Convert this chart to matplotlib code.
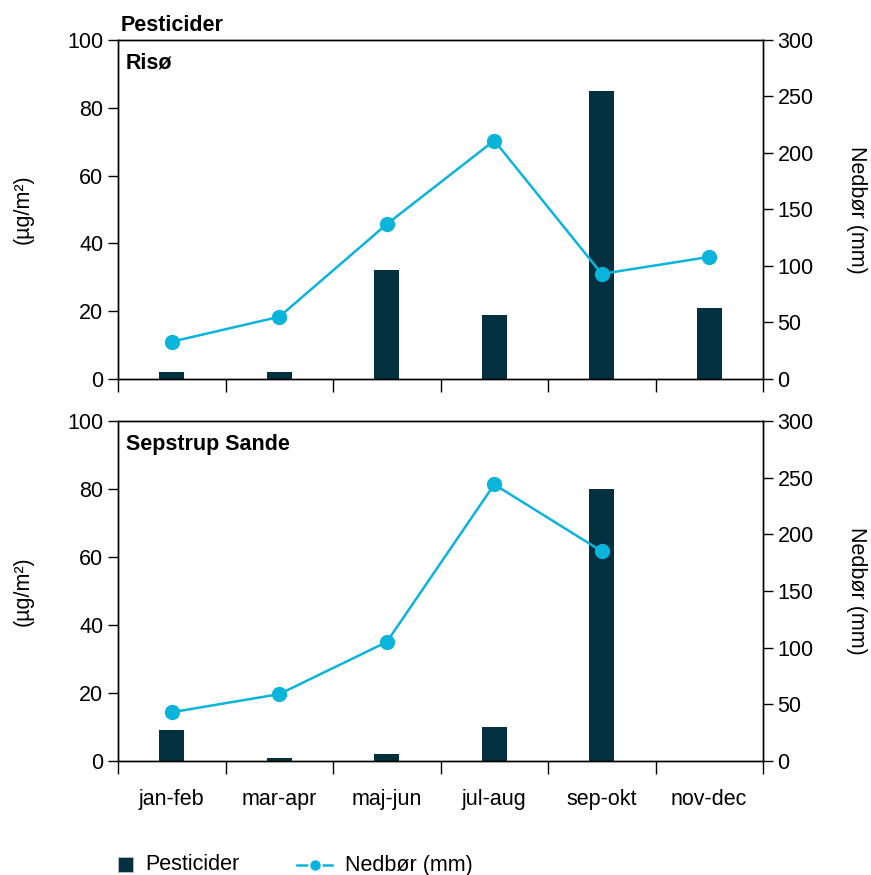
import matplotlib
matplotlib.use("Agg")
import matplotlib.pyplot as plt
from matplotlib.lines import Line2D
from matplotlib.patches import Rectangle
import numpy as np

plt.rcParams["font.family"] = ["Liberation Sans", "DejaVu Sans"]

perioder = ["jan-feb", "mar-apr", "maj-jun", "jul-aug", "sep-okt", "nov-dec"]

# Risø
riso_pest = [2, 2, 32, 19, 85, 21]
riso_nedbor = [33, 55, 137, 211, 93, 108]

# Sepstrup Sande
sepstrup_pest = [9, 1, 2, 10, 80, 0]
sepstrup_nedbor = [43, 59, 105, 244, 185, np.nan]

BAR_COLOR = "#04313f"
LINE_COLOR = "#0ab4da"
FS = 15.5

W, H = 871, 875
fig = plt.figure(figsize=(W / 100, H / 100), dpi=100)
ax_top = fig.add_axes([0.1355, 0.5669, 0.7405, 0.3874])
ax_bot = fig.add_axes([0.1355, 0.1303, 0.7405, 0.3886])

x = np.arange(len(perioder))


def draw_panel(ax, pest, nedbor, navn, show_labels):
    ax.bar(x, pest, width=0.23, color=BAR_COLOR, zorder=2)
    ax.set_xlim(-0.5, len(perioder) - 0.5)
    ax.set_ylim(0, 100)
    ax.set_yticks([0, 20, 40, 60, 80, 100])
    ax.set_xticks(np.arange(len(perioder) + 1) - 0.5)
    ax.set_xticklabels([])
    ax.set_xticks(x, minor=True)
    if show_labels:
        ax.set_xticklabels(perioder, minor=True)
    ax.tick_params(axis="x", which="major", direction="out", length=9, width=1)
    ax.tick_params(axis="x", which="minor", length=0, pad=20, labelsize=FS)
    ax.tick_params(axis="y", direction="out", length=7, width=1, labelsize=FS)
    for s in ax.spines.values():
        s.set_linewidth(1)
    ax.set_ylabel("(µg/m²)", fontsize=FS, labelpad=24)
    ax.text(0.012, 0.963, navn, transform=ax.transAxes, fontsize=FS,
            fontweight="bold", va="top", ha="left")

    ax2 = ax.twinx()
    ax2.plot(x, nedbor, color=LINE_COLOR, linewidth=1.8, marker="o",
             markersize=10, zorder=3)
    ax2.set_ylim(0, 300)
    ax2.set_yticks([0, 50, 100, 150, 200, 250, 300])
    ax2.tick_params(axis="y", direction="out", length=7, width=1, labelsize=FS)
    ax2.set_ylabel("Nedbør (mm)", fontsize=FS, rotation=-90, labelpad=38)
    for s in ax2.spines.values():
        s.set_linewidth(1)
    return ax2


draw_panel(ax_top, riso_pest, riso_nedbor, "Risø", False)
draw_panel(ax_bot, sepstrup_pest, sepstrup_nedbor, "Sepstrup Sande", True)

fig.text(0.138, 1 - 31 / H, "Pesticider", fontsize=FS, fontweight="bold",
         ha="left", va="baseline")

# legend, drawn by hand in figure pixels
ly = 1 - 865 / H
fig.add_artist(Rectangle((118 / W, 1 - 872 / H), 15 / W, 15 / H,
                         transform=fig.transFigure, facecolor=BAR_COLOR,
                         edgecolor="#b8c4c8", linewidth=0.6))
fig.text(145 / W, ly, "Pesticider", fontsize=FS, ha="left", va="center")
fig.add_artist(Line2D([297 / W, 332 / W], [ly, ly], transform=fig.transFigure,
                      color=LINE_COLOR, linewidth=1.8))
fig.add_artist(Line2D([314.5 / W], [ly], transform=fig.transFigure,
                      color=LINE_COLOR, marker="o", markersize=9,
                      markeredgecolor="white", markeredgewidth=1.5))
fig.text(345 / W, ly, "Nedbør (mm)", fontsize=FS, ha="left", va="center")

fig.savefig("out.png", dpi=100)
